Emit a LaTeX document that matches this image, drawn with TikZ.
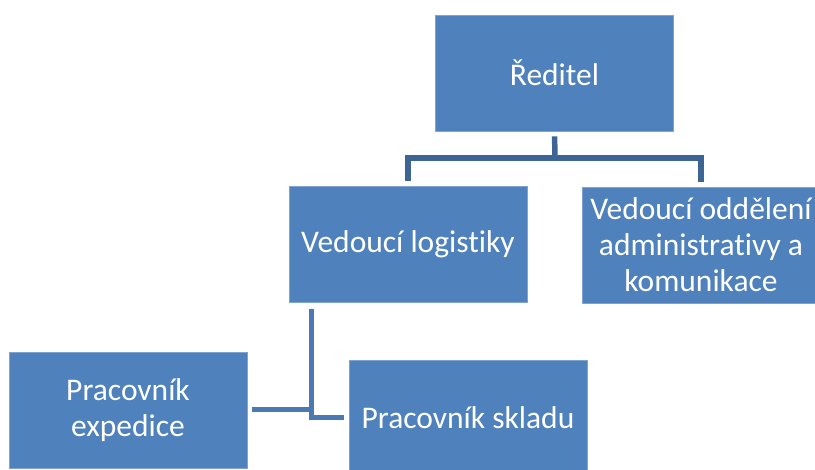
\documentclass[tikz,border=0pt]{standalone}
\usepackage{fontspec}
\setmainfont{Carlito}[Ligatures=NoCommon]
\definecolor{boxblue}{HTML}{4F81BD}
\definecolor{boxedge}{HTML}{7FA3D3}
\definecolor{linkdark}{HTML}{3C6596}
\definecolor{linkmid}{HTML}{4A79B6}
\tikzset{
  orgbox/.style={rectangle, fill=boxblue, draw=boxedge, line width=0.8pt,
    minimum width=238pt, minimum height=116pt, inner sep=0pt,
    text=white, align=center, font=\fontsize{31.5}{36}\selectfont},
  toplink/.style={draw=linkdark, line width=5.5pt},
  lowlink/.style={draw=linkmid, line width=5pt}
}
\begin{document}
\begin{tikzpicture}[x=1pt,y=-1pt]
  \useasboundingbox (0,0) rectangle (815,470);
  \clip (0,0) rectangle (815,470);

  % boxes of the chart
  \node[orgbox] (red) at (554.5,73) {Ředitel};
  \node[orgbox] (log) at (408,244.5) {Vedoucí logistiky};
  \node[orgbox] (adm) at (701,245) {Vedoucí oddělení\\administrativy a\\komunikace};
  \node[orgbox] (exp) at (128,410) {Pracovník\\expedice};
  \node[orgbox] (skl) at (468,418) {Pracovník skladu};

  % director to both heads
  \coordinate (hub) at (555,158);
  \draw[toplink, shorten <=5pt] (red.south) -- (hub);
  \draw[toplink, shorten >=5pt] (hub) -| (log.north);
  \draw[toplink, shorten >=5pt] (hub) -| (adm.north);

  % logistics head to its workers
  \coordinate (bend) at (311,418);
  \draw[lowlink, shorten <=6pt, shorten >=5pt] (log.south -| bend) -- (bend) -- (skl.west);
  \draw[lowlink, shorten <=5pt] (exp.east) -- (bend |- exp.east);
\end{tikzpicture}
\end{document}
